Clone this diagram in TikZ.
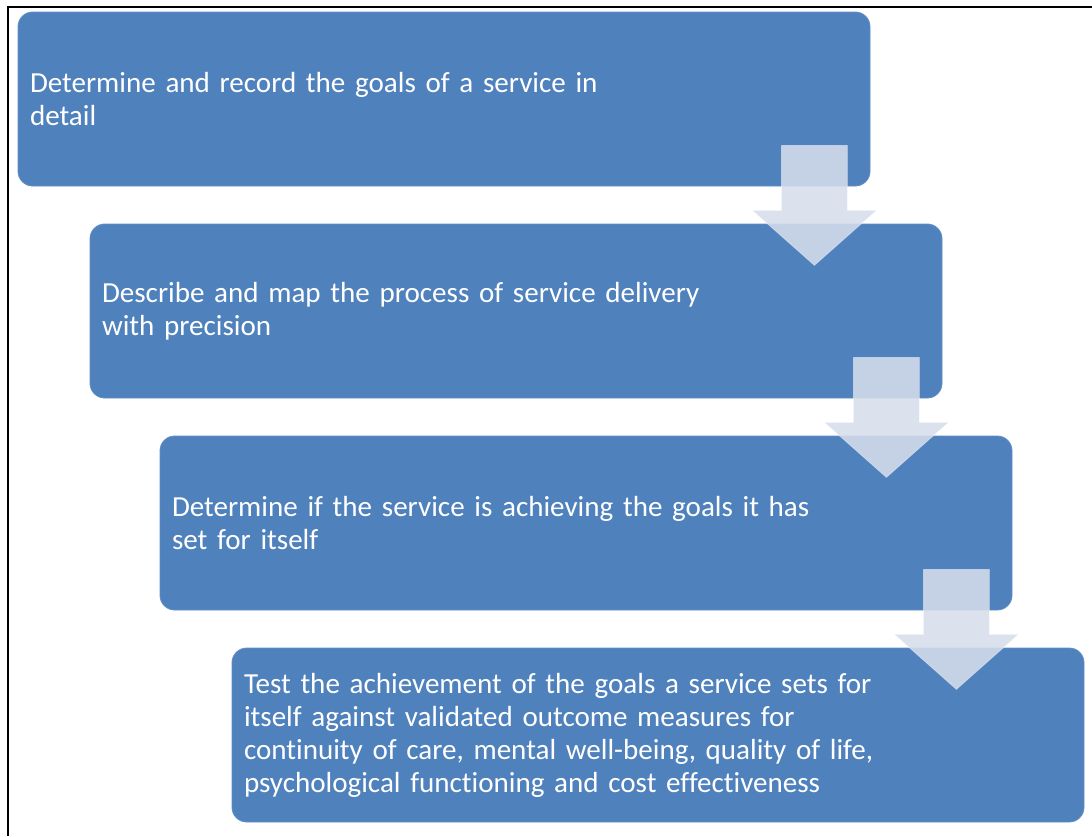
\documentclass[tikz,border=0pt]{standalone}
\usepackage{fontspec}
\setmainfont[Ligatures={NoCommon},WordSpace=0.85]{Carlito}
\usepackage{tikz}
\usetikzlibrary{positioning,calc}

\definecolor{stepblue}{RGB}{79,129,189}
\definecolor{stepedge}{RGB}{98,143,198}
\definecolor{arrowfill}{RGB}{214,221,235}

\tikzset{
  stepbox/.style={rectangle, rounded corners=11pt, fill=stepblue, draw=stepedge, line width=0.6pt,
    minimum width=639pt, minimum height=130.5pt, text width=621pt, inner xsep=9pt,
    align=left, text=white, font=\fontsize{21.8}{24.8}\selectfont},
  downarrow/.style={fill=arrowfill, fill opacity=0.88, draw=white, draw opacity=0.35, line width=0.6pt}
}

\begin{document}
\begin{tikzpicture}[x=0.75pt,y=-0.75pt]
    \useasboundingbox (0,0) rectangle (1092,836);
    % Frame (only top and left edges are on the page)
    \draw[line width=1.6pt] (8,836) -- (8,7) -- (1092,7);
    % Steps
    \node[stepbox] (s1) at (444,99) {Determine and record the goals of a service in\\detail};
    \node[stepbox] (s2) at (516,311) {Describe and map the process of service delivery\\with precision};
    \node[stepbox] (s3) at (586,523) {Determine if the service is achieving the goals it has\\set for itself};
    \node[stepbox] (s4) at (658,735) {Test the achievement of the goals a service sets for\\itself against validated outcome measures for\\continuity of care, mental well-being, quality of life,\\psychological functioning and cost effectiveness};
    % Block arrows between steps
    \foreach \a in {s1,s2,s3}{
      \begin{scope}[shift={($(\a.south east)+(-56,-41)$)}]
        \draw[downarrow] (-33,0) -- (33,0) -- (33,65) -- (62,65) -- (0,120) -- (-62,65) -- (-33,65) -- cycle;
      \end{scope}
    }
\end{tikzpicture}
\end{document}
